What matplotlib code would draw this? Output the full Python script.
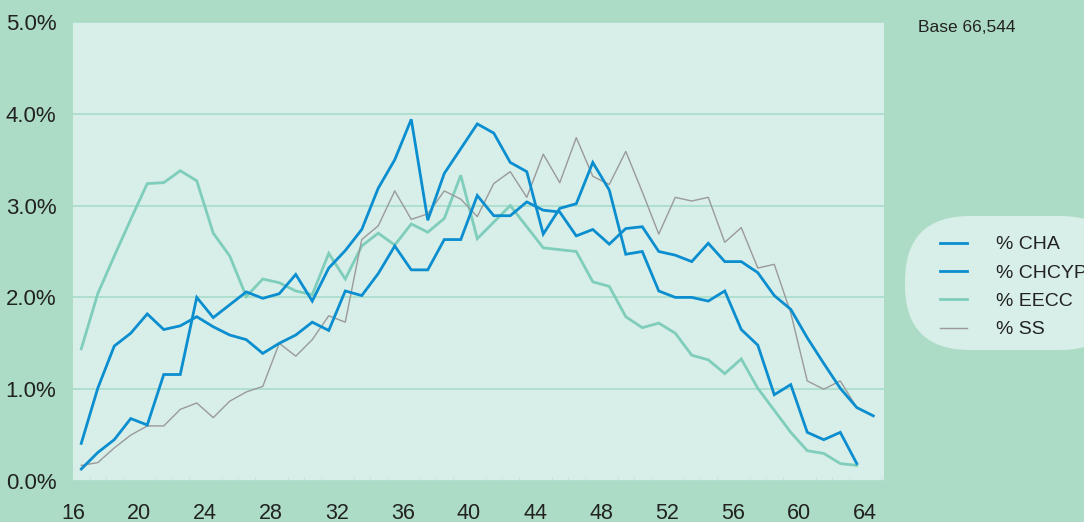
import matplotlib
matplotlib.use('Agg')
import matplotlib.pyplot as plt
import numpy as np
from matplotlib.patches import FancyBboxPatch
from matplotlib.lines import Line2D

plt.rcParams['font.family'] = ['Liberation Sans', 'DejaVu Sans']

# --- data (share of population by age, %) ---
ages_cha = np.arange(16, 65)
pct_cha = [0.41, 1.01, 1.47, 1.61, 1.82, 1.65, 1.69, 1.79, 1.68, 1.59,
           1.54, 1.39, 1.50, 1.59, 1.73, 1.64, 2.07, 2.02, 2.26, 2.56,
           2.30, 2.30, 2.63, 2.63, 3.11, 2.89, 2.89, 3.04, 2.95, 2.93,
           2.67, 2.74, 2.58, 2.75, 2.77, 2.50, 2.46, 2.39, 2.59, 2.39,
           2.39, 2.27, 2.02, 1.87, 1.56, 1.28, 1.01, 0.80, 0.71]

ages_chcyp = np.arange(16, 64)
pct_chcyp = [0.13, 0.31, 0.45, 0.68, 0.61, 1.16, 1.16, 2.00, 1.78, 1.92,
             2.06, 1.99, 2.04, 2.25, 1.96, 2.32, 2.51, 2.74, 3.19, 3.50,
             3.94, 2.84, 3.35, 3.62, 3.89, 3.79, 3.47, 3.37, 2.69, 2.97,
             3.02, 3.47, 3.17, 2.47, 2.50, 2.07, 2.00, 2.00, 1.96, 2.07,
             1.65, 1.48, 0.94, 1.05, 0.53, 0.45, 0.53, 0.19]

ages_eecc = np.arange(16, 64)
pct_eecc = [1.44, 2.04, 2.45, 2.85, 3.24, 3.25, 3.38, 3.27, 2.70, 2.45,
            2.01, 2.20, 2.16, 2.07, 2.03, 2.48, 2.20, 2.56, 2.70, 2.57,
            2.80, 2.71, 2.86, 3.33, 2.64, 2.82, 3.00, 2.77, 2.54, 2.52,
            2.50, 2.17, 2.12, 1.79, 1.67, 1.72, 1.61, 1.37, 1.32, 1.17,
            1.33, 1.01, 0.77, 0.53, 0.33, 0.30, 0.19, 0.17]

ages_ss = np.arange(16, 64)
pct_ss = [0.17, 0.20, 0.36, 0.50, 0.60, 0.60, 0.78, 0.85, 0.69, 0.87,
          0.97, 1.03, 1.50, 1.36, 1.54, 1.80, 1.73, 2.63, 2.78, 3.16,
          2.85, 2.91, 3.16, 3.07, 2.88, 3.24, 3.37, 3.09, 3.56, 3.25,
          3.74, 3.32, 3.23, 3.59, 3.15, 2.69, 3.09, 3.05, 3.09, 2.60,
          2.76, 2.32, 2.36, 1.83, 1.09, 1.00, 1.09, 0.80]

x_ticks = [16, 20, 24, 28, 32, 36, 40, 44, 48, 52, 56, 60, 64]
y_ticks = [0, 1, 2, 3, 4, 5]
base_note = 'Base 66,544'

fig_bg = '#acdcc6'
ax_bg = '#d8eee8'
blue = '#0a8ecf'
teal = '#7fcdbb'
grey = '#9a9a9a'
text_c = '#222222'

fig = plt.figure(figsize=(10.84, 5.22), dpi=100)
fig.patch.set_facecolor(fig_bg)
ax = fig.add_axes([73 / 1084, 41 / 522, 811 / 1084, 459 / 522])
ax.set_facecolor(ax_bg)

# points sit in the middle of each age band
ax.plot(ages_cha + 0.5, pct_cha, color=blue, lw=2.0, solid_joinstyle='miter', zorder=4)
ax.plot(ages_chcyp + 0.5, pct_chcyp, color=blue, lw=2.0, solid_joinstyle='miter', zorder=4)
ax.plot(ages_eecc + 0.5, pct_eecc, color=teal, lw=2.0, solid_joinstyle='miter', zorder=3)
ax.plot(ages_ss + 0.5, pct_ss, color=grey, lw=1.0, zorder=3)

ax.set_xlim(16, 65.15)
ax.set_ylim(0, 5)
ax.set_xticks(x_ticks)
ax.set_xticks(np.arange(16, 66), minor=True)
ax.set_yticks(y_ticks)
ax.set_yticklabels([f'{v:.1f}%' for v in y_ticks])
ax.tick_params(axis='y', length=0, pad=12, labelsize=16, labelcolor=text_c)
ax.tick_params(axis='x', which='major', length=0, pad=16, labelsize=15.5, labelcolor=text_c)
ax.tick_params(axis='x', which='minor', length=3, width=0.6, color='#c2e4da', direction='in')
ax.grid(axis='y', color='#a6dccb', lw=1.2)
ax.set_axisbelow(True)
for s in ax.spines.values():
    s.set_visible(False)

fig.text(918 / 1084, 1 - 28 / 522, base_note, fontsize=12.5, color=text_c,
         ha='left', va='center')

# rounded legend panel running off the right edge
panel = FancyBboxPatch((905 / 1084, 1 - 350 / 522), 220 / 1084, 134 / 522,
                       boxstyle='round,pad=0,rounding_size=0.06',
                       transform=fig.transFigure, facecolor=ax_bg, edgecolor='none',
                       mutation_aspect=1084 / 522, clip_on=False)
fig.patches.append(panel)

handles = [Line2D([], [], color=blue, lw=2.0),
           Line2D([], [], color=blue, lw=2.0),
           Line2D([], [], color=teal, lw=2.0),
           Line2D([], [], color=grey, lw=1.0)]
labels = ['% CHA', '% CHCYP', '% EECC', '% SS']
fig.legend(handles, labels, loc='upper left', bbox_to_anchor=(932 / 1084, 1 - 228 / 522),
           frameon=False, fontsize=14, handlelength=1.4, handletextpad=1.5,
           labelspacing=0.55, borderaxespad=0, labelcolor=text_c)

fig.savefig('out.png', dpi=100, facecolor=fig_bg)
